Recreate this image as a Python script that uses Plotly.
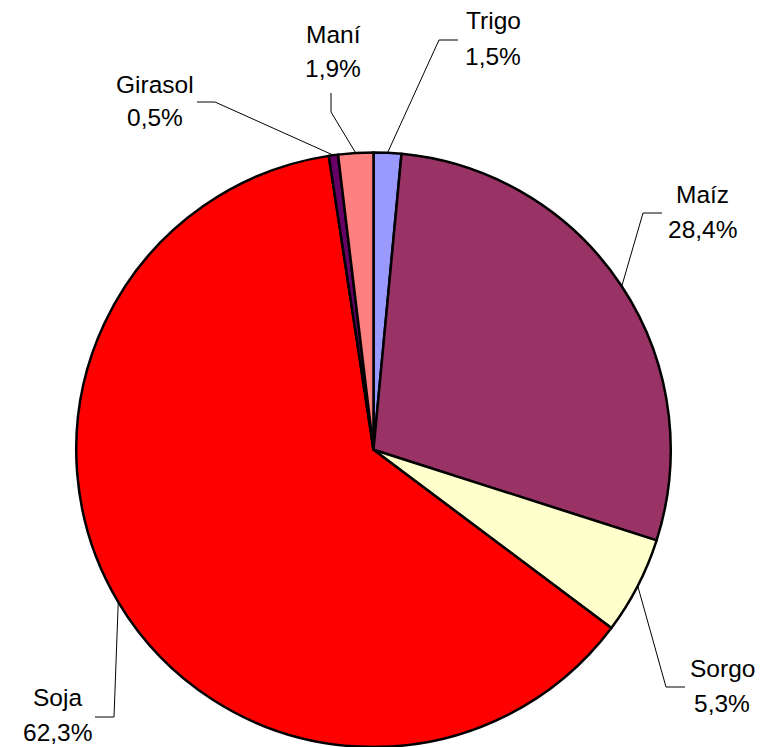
import math
import plotly.graph_objects as go

# ---- data ----
crops = ["Trigo", "Maíz", "Sorgo", "Soja", "Girasol", "Maní"]
shares = [1.5, 28.4, 5.3, 62.3, 0.5, 1.9]
pct_labels = ["1,5%", "28,4%", "5,3%", "62,3%", "0,5%", "1,9%"]
colors = ["#9999FF", "#993366", "#FFFFCC", "#FF0000", "#660066", "#FF8080"]

# ---- layout (page pixels; the figure sits 8px in from the page corner) ----
OFF = 8
W, H = 764 - OFF, 747 - OFF
CX, CY, R = 373.5, 450.0, 297.5
FONT = dict(family="Liberation Sans, Arial, sans-serif", size=24.5, color="#000000")

# text centre x, name line y, percent line y, leader elbow, leader end
label_layout = {
    "Trigo":   dict(tx=493, ny=21, py=56, elbow=(439, 40), end=(458, 40)),
    "Maíz":    dict(tx=702, ny=194, py=229, elbow=(643, 213), end=(662, 213)),
    "Sorgo":   dict(tx=722, ny=668, py=703, elbow=(666, 687), end=(685, 687)),
    "Soja":    dict(tx=57, ny=697, py=732, elbow=(114, 717), end=(95, 717)),
    "Girasol": dict(tx=155, ny=84, py=118, elbow=(215, 102), end=(197, 102)),
    "Maní":    dict(tx=333, ny=34, py=68, elbow=(331, 112), end=(331, 93)),
}


def px(x):
    return (x - OFF) / W


def py(y):
    return 1 - (y - OFF) / H


fig = go.Figure(
    go.Pie(
        labels=crops,
        values=shares,
        sort=False,
        direction="clockwise",
        rotation=0,
        marker=dict(colors=colors, line=dict(color="#000000", width=2.5)),
        textinfo="none",
        hoverinfo="label+percent",
        showlegend=False,
        domain=dict(x=[px(CX - R), px(CX + R)], y=[0, py(CY - R)]),
    )
)

total = sum(shares)
cum = 0.0
shapes = []
annotations = []
for name, val, pl in zip(crops, shares, pct_labels):
    mid = (cum + val / 2) / total * 2 * math.pi
    cum += val
    ex = CX + R * math.sin(mid)
    ey = CY - R * math.cos(mid)
    lay = label_layout[name]
    (bx, by), (dx, dy) = lay["elbow"], lay["end"]
    path = f"M {px(ex)} {py(ey)} L {px(bx)} {py(by)} L {px(dx)} {py(dy)}"
    shapes.append(dict(type="path", xref="paper", yref="paper", path=path,
                       line=dict(color="#000000", width=1)))
    annotations.append(dict(x=px(lay["tx"]), y=py(lay["ny"]), xref="paper", yref="paper",
                            text=name, showarrow=False, xanchor="center", yanchor="middle",
                            font=FONT))
    annotations.append(dict(x=px(lay["tx"]), y=py(lay["py"]), xref="paper", yref="paper",
                            text=pl, showarrow=False, xanchor="center", yanchor="middle",
                            font=FONT))

fig.update_layout(
    width=W,
    height=H,
    margin=dict(l=0, r=0, t=0, b=0),
    paper_bgcolor="#FFFFFF",
    plot_bgcolor="#FFFFFF",
    shapes=shapes,
    annotations=annotations,
)

fig.write_html("out.html")
